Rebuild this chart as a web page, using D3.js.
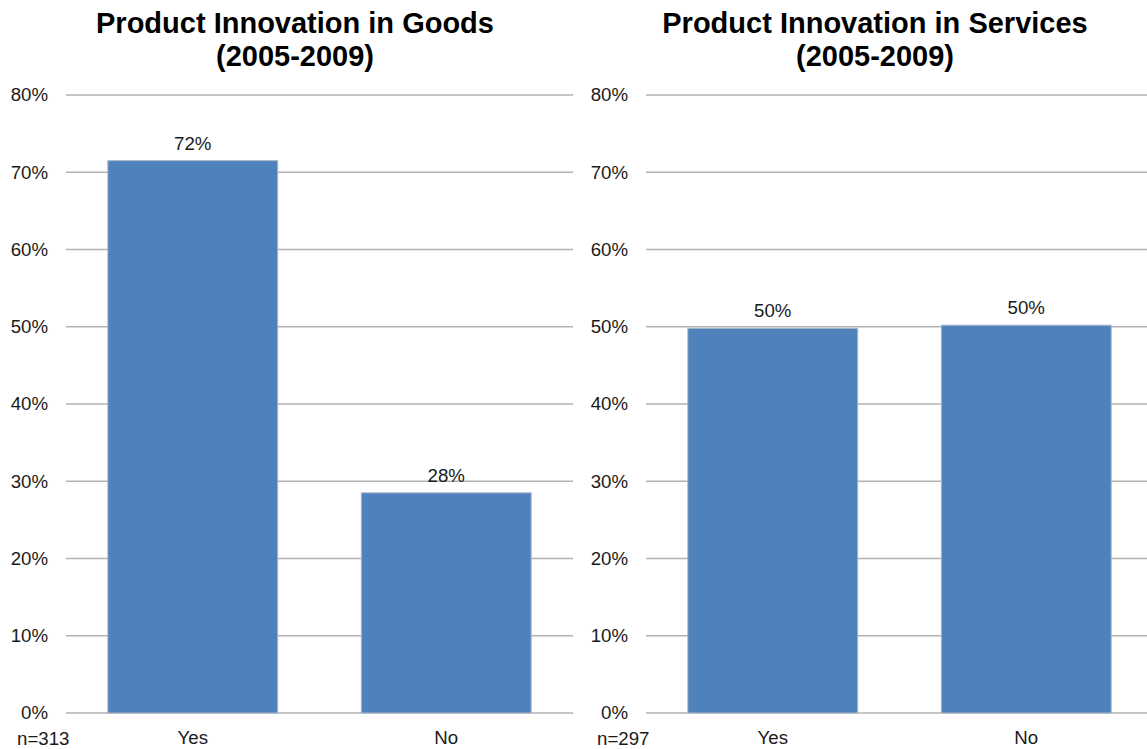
<!DOCTYPE html>
<html>
<head>
<meta charset="utf-8">
<script src="https://cdn.jsdelivr.net/npm/d3@7"></script>
<style>
  html, body { margin: 0; padding: 0; background: #fff; }
  svg { display: block; font-family: "Liberation Sans", Arial, sans-serif; }
</style>
</head>
<body>
<svg id="chart" width="1147" height="749"></svg>
<script>
// Survey answers, share of respondents (%)
const categories = ["Yes", "No"];
const goodsValues = [71.5, 28.5];
const servicesValues = [49.8, 50.2];
const goodsLabels = ["72%", "28%"];
const servicesLabels = ["50%", "50%"];
const yTicks = [0, 10, 20, 30, 40, 50, 60, 70, 80];
const panels = [
  { title: ["Product Innovation in Goods", "(2005-2009)"], n: "n=313", values: goodsValues, labels: goodsLabels },
  { title: ["Product Innovation in Services", "(2005-2009)"], n: "n=297", values: servicesValues, labels: servicesLabels }
];

const svg = d3.select("#chart");
const plotTop = 95, plotBottom = 713;
const labelSize = 18.67;
const textColor = "#1a1a1a";
const layout = [
  { x0: 66, x1: 573, titleX: 295 },
  { x0: 646, x1: 1153, titleX: 875 }
];

const y = d3.scaleLinear().domain([0, 80]).range([plotBottom, plotTop]);

panels.forEach((p, i) => {
  const L = layout[i];
  const g = svg.append("g");
  const x = d3.scaleBand().domain(categories).range([L.x0, L.x1])
    .paddingInner(0.33).paddingOuter(0.165);

  // title, two lines
  const t = g.append("text").attr("x", L.titleX).attr("text-anchor", "middle")
    .attr("font-size", 29).attr("font-weight", "bold").attr("fill", "#000");
  p.title.forEach((line, k) => {
    t.append("tspan").attr("x", L.titleX).attr("y", 33 + k * 33).text(line);
  });

  // horizontal gridlines
  g.selectAll("line.grid").data(yTicks).join("line")
    .attr("class", "grid")
    .attr("x1", L.x0).attr("x2", L.x1)
    .attr("y1", d => y(d)).attr("y2", d => y(d))
    .attr("stroke", "#b3b3b3").attr("stroke-width", 1.5);

  // percentage axis labels
  const yAxis = d3.axisLeft(y).tickValues(yTicks).tickFormat(d => d + "%").tickSize(0).tickPadding(0);
  const ya = g.append("g").attr("transform", `translate(${L.x0 - 18},0)`).call(yAxis);
  ya.select(".domain").remove();
  ya.selectAll("text").attr("font-size", labelSize).attr("fill", textColor)
    .attr("font-family", "'Liberation Sans', Arial, sans-serif");

  // bars
  g.selectAll("rect.bar").data(p.values).join("rect")
    .attr("class", "bar")
    .attr("x", (d, k) => x(categories[k]))
    .attr("width", x.bandwidth())
    .attr("y", d => y(d))
    .attr("height", d => plotBottom - y(d))
    .attr("fill", "#4f81bd")
    .attr("stroke", "#a9b6c6").attr("stroke-width", 1);

  // value labels above bars
  g.selectAll("text.val").data(p.values).join("text")
    .attr("class", "val")
    .attr("x", (d, k) => x(categories[k]) + x.bandwidth() / 2)
    .attr("y", d => y(d) - 11)
    .attr("text-anchor", "middle").attr("font-size", labelSize).attr("fill", textColor)
    .text((d, k) => p.labels[k]);

  // category labels
  const xAxis = d3.axisBottom(x).tickSize(0).tickPadding(0);
  const xa = g.append("g").attr("transform", `translate(0,${plotBottom + 18})`).call(xAxis);
  xa.select(".domain").remove();
  xa.selectAll("text").attr("font-size", labelSize).attr("fill", textColor)
    .attr("font-family", "'Liberation Sans', Arial, sans-serif");

  // sample size
  g.append("text").attr("x", L.x0 - 49).attr("y", 744.5).attr("text-anchor", "start")
    .attr("font-size", labelSize).attr("fill", textColor).text(p.n);
});
</script>
</body>
</html>
